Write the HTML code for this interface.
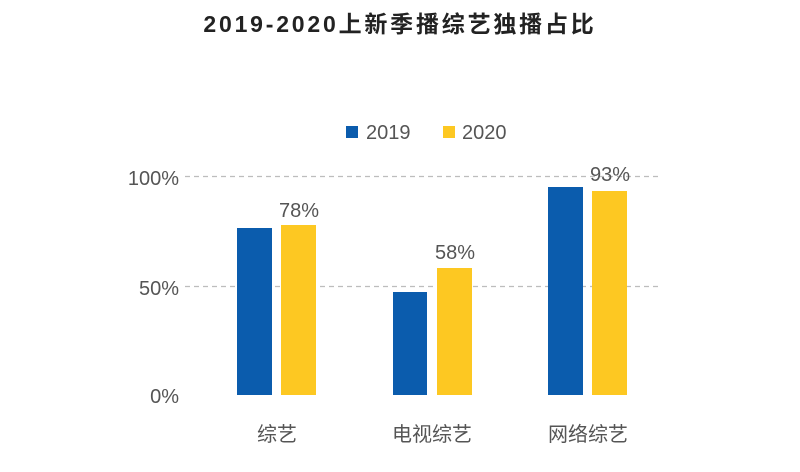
<!DOCTYPE html>
<html><head><meta charset="utf-8"><style>
body{margin:0;background:#fff;}
svg text{font-family:"Liberation Sans","Noto Sans CJK SC",sans-serif;}
</style></head><body>
<svg width="800" height="467" viewBox="0 0 800 467" xmlns="http://www.w3.org/2000/svg">
<rect width="800" height="467" fill="#fff"/>
<text x="400" y="32" text-anchor="middle" font-size="23" font-weight="bold" fill="#222" letter-spacing="2.8">2019-2020上新季播综艺独播占比</text>
<line x1="185" y1="176.5" x2="662" y2="176.5" stroke="#bdbdbd" stroke-width="1.2" stroke-dasharray="5,4"/>
<line x1="185" y1="286.5" x2="662" y2="286.5" stroke="#bdbdbd" stroke-width="1.2" stroke-dasharray="5,4"/>
<text x="179" y="185" text-anchor="end" font-size="20" fill="#555">100%</text>
<text x="179" y="295" text-anchor="end" font-size="20" fill="#555">50%</text>
<text x="179" y="403" text-anchor="end" font-size="20" fill="#555">0%</text>
<rect x="346" y="126" width="12" height="12" fill="#0b5cad"/>
<text x="366" y="139" font-size="20" fill="#555">2019</text>
<rect x="443" y="126" width="12" height="12" fill="#fdc822"/>
<text x="462" y="139" font-size="20" fill="#555">2020</text>
<rect x="237" y="228" width="35" height="167" fill="#0b5cad"/>
<rect x="281" y="225" width="35" height="170" fill="#fdc822"/>
<rect x="393" y="292" width="34" height="103" fill="#0b5cad"/>
<rect x="437" y="268" width="35" height="127" fill="#fdc822"/>
<rect x="548" y="187" width="35" height="208" fill="#0b5cad"/>
<rect x="592" y="191" width="35" height="204" fill="#fdc822"/>
<text x="299" y="217" text-anchor="middle" font-size="20" fill="#555">78%</text>
<text x="455" y="259" text-anchor="middle" font-size="20" fill="#555">58%</text>
<text x="610" y="181" text-anchor="middle" font-size="20" fill="#555">93%</text>
<text x="277" y="441" text-anchor="middle" font-size="20" fill="#555">综艺</text>
<text x="432" y="441" text-anchor="middle" font-size="20" fill="#555">电视综艺</text>
<text x="588" y="441" text-anchor="middle" font-size="20" fill="#555">网络综艺</text>
</svg>
</body></html>
